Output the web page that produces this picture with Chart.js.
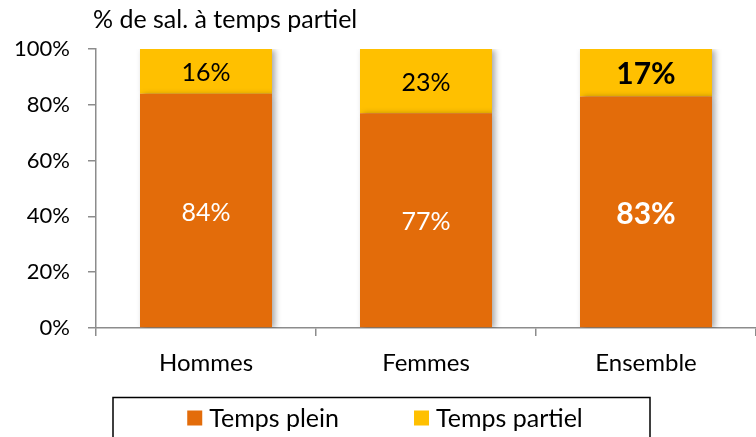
<!DOCTYPE html>
<html>
<head>
<meta charset="utf-8">
<script src="https://cdn.jsdelivr.net/npm/chart.js@4"></script>
<style>
  html, body { margin: 0; padding: 0; background: #fff; }
  #wrap { width: 756px; height: 437px; }
</style>
</head>
<body>
<div id="wrap"><canvas id="chart"></canvas></div>
<script>
const categories = ['Hommes', 'Femmes', 'Ensemble'];
const tempsPlein = [84, 77, 83];
const tempsPartiel = [16, 23, 17];
const seriesNames = ['Temps plein', 'Temps partiel'];
const yTicks = [0, 20, 40, 60, 80, 100];

const FONT = 'Lato';
const ORANGE = '#E36C0A';
const YELLOW = '#FFC000';
const AXIS = '#8C8C8C';

// soft drop shadow behind the bars
const barShadow = {
  id: 'barShadow',
  beforeDatasetsDraw(chart) {
    const ctx = chart.ctx;
    ctx.save();
    ctx.shadowColor = 'rgba(0,0,0,0.35)';
    ctx.shadowBlur = 6;
    ctx.shadowOffsetX = 3;
    ctx.shadowOffsetY = 1;
  },
  afterDatasetsDraw(chart) {
    chart.ctx.restore();
  }
};

// value labels centred in each segment, the last column in bold
const segmentLabels = {
  id: 'segmentLabels',
  afterDraw(chart) {
    const ctx = chart.ctx;
    ctx.save();
    ctx.textAlign = 'center';
    ctx.textBaseline = 'middle';
    chart.data.datasets.forEach((ds, di) => {
      chart.getDatasetMeta(di).data.forEach((bar, i) => {
        const bold = i === categories.length - 1;
        ctx.font = (bold ? 'bold 30px ' : '25px ') + FONT;
        ctx.fillStyle = di === 0 ? '#fff' : '#000';
        const y = (bar.y + bar.base) / 2;
        ctx.fillText(ds.data[i] + '%', bar.x, y + 2);
      });
    });
    ctx.restore();
  }
};

// axis caption and framed legend
const extras = {
  id: 'extras',
  afterDraw(chart) {
    const ctx = chart.ctx;
    ctx.save();
    ctx.fillStyle = '#000';
    ctx.font = '25px ' + FONT;
    ctx.textBaseline = 'middle';
    ctx.textAlign = 'left';
    ctx.fillText('% de sal. à temps partiel', 93, 20);

    // legend frame
    ctx.strokeStyle = '#000';
    ctx.lineWidth = 1.5;
    ctx.strokeRect(113, 397.5, 537, 45);

    const box = 15, gapText = 7, gapItem = 75, ly = 418;
    ctx.font = '25px ' + FONT;
    const widths = chart.data.datasets.map(ds => box + gapText + ctx.measureText(ds.label).width);
    const total = widths.reduce((a, b) => a + b, 0) + gapItem * (widths.length - 1);
    let x = 385 - total / 2;
    chart.data.datasets.forEach((ds, i) => {
      ctx.fillStyle = ds.backgroundColor;
      ctx.fillRect(x, ly - box / 2, box, box);
      ctx.fillStyle = '#000';
      ctx.fillText(ds.label, x + box + gapText, ly + 1);
      x += widths[i] + gapItem;
    });
    ctx.restore();
  }
};

new Chart(document.getElementById('chart'), {
  type: 'bar',
  data: {
    labels: categories,
    datasets: [
      { label: seriesNames[0], data: tempsPlein, backgroundColor: ORANGE },
      { label: seriesNames[1], data: tempsPartiel, backgroundColor: YELLOW }
    ]
  },
  options: {
    responsive: true,
    maintainAspectRatio: false,
    animation: false,
    events: [],
    layout: { padding: { top: 49, right: 0, bottom: 59, left: 0 } },
    datasets: { bar: { barPercentage: 0.6, categoryPercentage: 1 } },
    plugins: {
      legend: { display: false },
      tooltip: { enabled: false }
    },
    scales: {
      x: {
        stacked: true,
        border: { color: AXIS, width: 1.5 },
        grid: { offset: true, drawOnChartArea: false, color: AXIS, lineWidth: 1.5, tickLength: 8 },
        ticks: { color: '#000', font: { family: FONT, size: 24 }, padding: 13 },
        afterFit(scale) { scale.height = 50; }
      },
      y: {
        stacked: true,
        min: 0,
        max: 100,
        afterBuildTicks(scale) { scale.ticks = yTicks.map(v => ({ value: v })); },
        border: { color: AXIS, width: 1.5 },
        grid: { drawOnChartArea: false, color: AXIS, lineWidth: 1.5, tickLength: 8 },
        ticks: {
          color: '#000',
          font: { family: FONT, size: 22 },
          padding: 18,
          callback: v => v + '%'
        },
        afterFit(scale) { scale.width = 96; }
      }
    }
  },
  plugins: [barShadow, segmentLabels, extras]
});
</script>
</body>
</html>
